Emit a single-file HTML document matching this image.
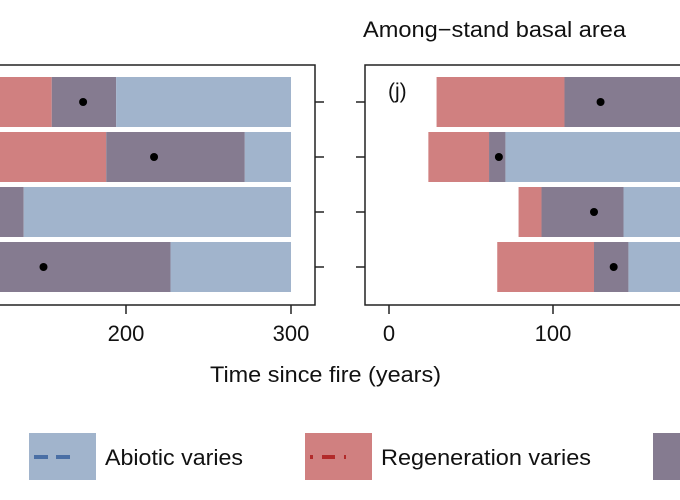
<!DOCTYPE html>
<html><head><meta charset="utf-8"><style>
body{margin:0;background:#fff;}
svg{display:block;font-family:"Liberation Sans",sans-serif;}
</style></head><body>
<svg id="c" width="680" height="500"></svg>
<script>
const rows=[0,1,2,3];
// left panel
const leftRedStart=[40,60,30,20];
const leftPurpleStart=[155,188,100,50];
const leftPurpleEnd=[194,272,138,227];
const leftBlueEnd=[300,300,300,300];
const leftDot=[174,217,80,150];
const rightRedStart=[29,24,79,66];
const rightPurpleStart=[107,61,93,125];
const rightPurpleEnd=[200,71,143,146];
const rightBlueEnd=[260,260,260,260];
const rightDot=[129,67,125,137];
const leftTicks=[200,300];
const rightTicks=[0,100];
const NS="http://www.w3.org/2000/svg";
const svg=document.getElementById('c');
function el(t,a,p){const e=document.createElementNS(NS,t);for(const k in a)e.setAttribute(k,a[k]);(p||svg).appendChild(e);return e;}
const xL=v=>-204+v*1.65, xR=v=>389+v*1.64;
const yC=i=>102+i*55;
const RED="#d08080",PUR="#857b90",BLU="#a1b4cc";
function panel(x,rs,ps,pe,be,dt,name){
  const g=el('g',{});
  
  
  rows.forEach(i=>{
    const y=yC(i)-25,h=50;
    const r=el('rect',{x:x(rs[i]),y:y,width:x(ps[i])-x(rs[i]),height:h,fill:RED},g);
    
    
    const p=el('rect',{x:x(ps[i]),y:y,width:x(pe[i])-x(ps[i]),height:h,fill:PUR},g);
    
    
    const b=el('rect',{x:x(pe[i]),y:y,width:Math.max(0,x(be[i])-x(pe[i])),height:h,fill:BLU},g);
    
    
    const d=el('circle',{cx:x(dt[i]),cy:yC(i),r:4,fill:'#000'},g);
    
    
  });
}
panel(xL,leftRedStart,leftPurpleStart,leftPurpleEnd,leftBlueEnd,leftDot,'left-panel');
panel(xR,rightRedStart,rightPurpleStart,rightPurpleEnd,rightBlueEnd,rightDot,'right-panel');
el('path',{d:'M-5 65 H315 V305 H-5',fill:'none',stroke:'#222','stroke-width':1.5});
el('path',{d:'M685 65 H365 V305 H685',fill:'none',stroke:'#222','stroke-width':1.5});
rows.forEach(i=>{
  el('line',{x1:315,x2:324,y1:yC(i),y2:yC(i),stroke:'#222','stroke-width':1.5});
  el('line',{x1:356,x2:365,y1:yC(i),y2:yC(i),stroke:'#222','stroke-width':1.5});
});
leftTicks.forEach(v=>{
  el('line',{x1:xL(v),x2:xL(v),y1:305,y2:314,stroke:'#222','stroke-width':1.5});
  const t=el('text',{x:xL(v),y:341,'text-anchor':'middle','font-size':22,fill:'#111'});t.textContent=v;
  
  
});
rightTicks.forEach(v=>{
  el('line',{x1:xR(v),x2:xR(v),y1:305,y2:314,stroke:'#222','stroke-width':1.5});
  const t=el('text',{x:xR(v),y:341,'text-anchor':'middle','font-size':22,fill:'#111'});t.textContent=v;
  
  
});
</script>
<svg style="position:absolute;left:0;top:0" width="680" height="500">
<text x="363" y="37" font-size="22" textLength="263" lengthAdjust="spacingAndGlyphs" fill="#111">Among−stand basal area</text>
<text x="388" y="98" font-size="21" fill="#111">(j)</text>
<text x="210" y="382" font-size="22" textLength="231" lengthAdjust="spacingAndGlyphs" fill="#111">Time since fire (years)</text>
<g>
<rect x="29" y="433" width="67" height="47" fill="#a1b4cc"/>
<line x1="34" x2="70" y1="457" y2="457" stroke="#4a6fa5" stroke-width="4" stroke-dasharray="14 8"/>
<text x="105" y="465" font-size="22" textLength="138" lengthAdjust="spacingAndGlyphs" fill="#111">Abiotic varies</text></g>
<g>
<rect x="305" y="433" width="67" height="47" fill="#d08080"/>
<line x1="310" x2="346" y1="457" y2="457" stroke="#b22a2a" stroke-width="4" stroke-dasharray="3 9 13 9"/>
<text x="381" y="465" font-size="22" textLength="210" lengthAdjust="spacingAndGlyphs" fill="#111">Regeneration varies</text></g>
<g>
<rect x="653" y="433" width="40" height="47" fill="#857b90"/></g>
</svg>
</body></html>
